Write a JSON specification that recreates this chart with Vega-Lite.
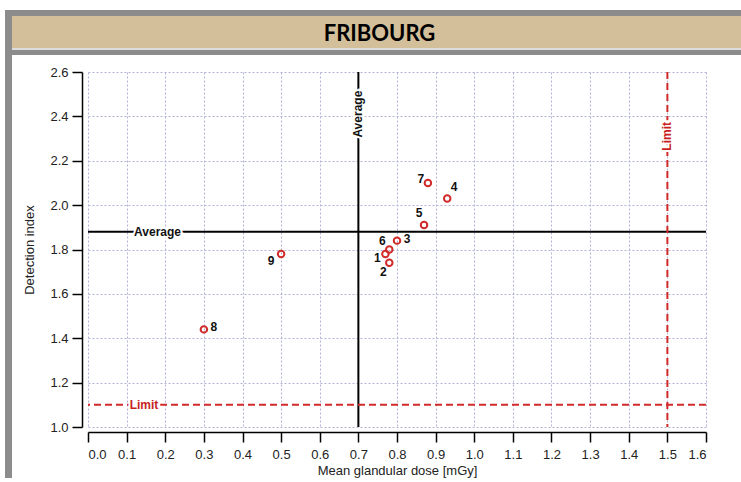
{
  "$schema": "https://vega.github.io/schema/vega-lite/v6.json",
  "background": "white",
  "padding": {"left": 5, "top": 10, "right": 0, "bottom": 0},
  "config": {"view": {"stroke": null}, "concat": {"spacing": 0}},
  "datasets": {
    "points": [
      {"id": 1, "x": 0.77, "y": 1.78},
      {"id": 2, "x": 0.78, "y": 1.74},
      {"id": 3, "x": 0.80, "y": 1.84},
      {"id": 4, "x": 0.93, "y": 2.03},
      {"id": 5, "x": 0.87, "y": 1.91},
      {"id": 6, "x": 0.78, "y": 1.80},
      {"id": 7, "x": 0.88, "y": 2.10},
      {"id": 8, "x": 0.30, "y": 1.44},
      {"id": 9, "x": 0.50, "y": 1.78}
    ],
    "refs": [
      {"kind": "Average", "x": 0.7, "y": 1.88},
      {"kind": "Limit", "x": 1.5, "y": 1.1}
    ],
    "heading": [{"t": "FRIBOURG"}],
    "blank": []
  },
  "hconcat": [
    {
      "width": 7, "height": 468,
      "view": {"fill": "#8c8c8c", "stroke": null},
      "data": {"name": "blank"},
      "mark": "text",
      "encoding": {"text": {"field": "t"}}
    },
    {
      "spacing": 11,
      "vconcat": [
        {
          "spacing": 0,
          "vconcat": [
            {
              "width": 729, "height": 6,
              "view": {"fill": "#8c8c8c", "stroke": null},
              "data": {"name": "blank"},
              "mark": "text",
              "encoding": {"text": {"field": "t"}}
            },
            {
              "width": 729, "height": 32,
              "view": {"fill": "#d3bf99", "stroke": null},
              "data": {"name": "heading"},
              "mark": {"type": "text", "font": "Lato", "fontWeight": "bold", "fontSize": 22, "fill": "#000000", "dy": 2, "dx": 3},
              "encoding": {"text": {"field": "t"}}
            },
            {
              "width": 729, "height": 2,
              "view": {"fill": "#dcdcdc", "stroke": null},
              "data": {"name": "blank"},
              "mark": "text",
              "encoding": {"text": {"field": "t"}}
            },
            {
              "width": 729, "height": 5,
              "view": {"fill": "#8c8c8c", "stroke": null},
              "data": {"name": "blank"},
              "mark": "text",
              "encoding": {"text": {"field": "t"}}
            }
          ]
        },
        {
          "spacing": 0,
          "hconcat": [
            {
              "width": 1, "height": 355,
              "data": {"name": "blank"},
              "mark": "text",
              "encoding": {"text": {"field": "t"}}
            },
            {
              "width": 618, "height": 355,
              "layer": [
                {
                  "data": {"name": "points"},
                  "mark": {"type": "point", "opacity": 0},
                  "encoding": {
                    "x": {"field": "x", "type": "quantitative",
                      "scale": {"domain": [0, 1.6], "nice": false, "zero": false},
                      "axis": {
                        "values": [0, 0.1, 0.2, 0.3, 0.4, 0.5, 0.6, 0.7, 0.8, 0.9, 1.0, 1.1, 1.2, 1.3, 1.4, 1.5, 1.6],
                        "tickCount": 20,
                        "format": ".1f", "offset": 5, "tickSize": 10, "tickWidth": 1.5, "tickColor": "#000",
                        "domainColor": "#000", "domainWidth": 1.5, "labelOverlap": false,
                        "labelFont": "Liberation Sans", "labelFontSize": 13, "labelColor": "#222", "labelPadding": 6,
                        "title": "Mean glandular dose [mGy]", "titleFont": "Liberation Sans", "titleFontSize": 13,
                        "titleFontWeight": "normal", "titleColor": "#222", "titlePadding": 3,
                        "grid": true, "gridColor": "#b3b3da", "gridDash": [2, 2], "gridWidth": 1
                      }
                    },
                    "y": {"field": "y", "type": "quantitative",
                      "scale": {"domain": [1.0, 2.6], "nice": false, "zero": false},
                      "axis": {
                        "values": [1.0, 1.2, 1.4, 1.6, 1.8, 2.0, 2.2, 2.4, 2.6],
                        "tickCount": 12,
                        "format": ".1f", "offset": 6, "tickSize": 10, "tickWidth": 1.5, "tickColor": "#000",
                        "domainColor": "#000", "domainWidth": 1.5, "labelOverlap": false,
                        "labelFont": "Liberation Sans", "labelFontSize": 13, "labelColor": "#222", "labelPadding": 4,
                        "title": ["", "Detection index"], "titleLineHeight": 10, "titleFont": "Liberation Sans", "titleFontSize": 13,
                        "titleFontWeight": "normal", "titleColor": "#222", "titlePadding": 13,
                        "grid": true, "gridColor": "#b3b3da", "gridDash": [2, 2], "gridWidth": 1
                      }
                    }
                  }
                },
                {
                  "data": {"name": "refs"},
                  "transform": [{"filter": "datum.kind == 'Average'"}],
                  "mark": {"type": "rule", "color": "#000", "strokeWidth": 2},
                  "encoding": {"x": {"field": "x", "type": "quantitative", "scale": {"domain": [0, 1.6], "nice": false, "zero": false}}}
                },
                {
                  "data": {"name": "refs"},
                  "transform": [{"filter": "datum.kind == 'Average'"}],
                  "mark": {"type": "rule", "color": "#000", "strokeWidth": 2},
                  "encoding": {"y": {"field": "y", "type": "quantitative", "scale": {"domain": [1.0, 2.6], "nice": false, "zero": false}}}
                },
                {
                  "data": {"name": "refs"},
                  "transform": [{"filter": "datum.kind == 'Limit'"}],
                  "mark": {"type": "rule", "color": "#d12a2a", "strokeWidth": 2, "strokeDash": [7, 4]},
                  "encoding": {"x": {"field": "x", "type": "quantitative", "scale": {"domain": [0, 1.6], "nice": false, "zero": false}}}
                },
                {
                  "data": {"name": "refs"},
                  "transform": [{"filter": "datum.kind == 'Limit'"}],
                  "mark": {"type": "rule", "color": "#d12a2a", "strokeWidth": 2, "strokeDash": [7, 4]},
                  "encoding": {"y": {"field": "y", "type": "quantitative", "scale": {"domain": [1.0, 2.6], "nice": false, "zero": false}}}
                },
                {
                  "data": {"name": "refs"},
                  "transform": [{"filter": "datum.kind == 'Average'"}],
                  "mark": {"type": "text", "font": "Liberation Sans", "fontWeight": "bold", "fontSize": 12, "fill": "white", "stroke": "white", "strokeWidth": 4},
                  "encoding": {
                    "x": {"datum": 0.18, "type": "quantitative", "scale": {"domain": [0, 1.6], "nice": false, "zero": false}},
                    "y": {"field": "y", "type": "quantitative", "scale": {"domain": [1.0, 2.6], "nice": false, "zero": false}},
                    "text": {"field": "kind"}
                  }
                },
                {
                  "data": {"name": "refs"},
                  "transform": [{"filter": "datum.kind == 'Average'"}],
                  "mark": {"type": "text", "font": "Liberation Sans", "fontWeight": "bold", "fontSize": 12, "fill": "#111"},
                  "encoding": {
                    "x": {"datum": 0.18, "type": "quantitative", "scale": {"domain": [0, 1.6], "nice": false, "zero": false}},
                    "y": {"field": "y", "type": "quantitative", "scale": {"domain": [1.0, 2.6], "nice": false, "zero": false}},
                    "text": {"field": "kind"}
                  }
                },
                {
                  "data": {"name": "refs"},
                  "transform": [{"filter": "datum.kind == 'Average'"}],
                  "mark": {"type": "text", "font": "Liberation Sans", "fontWeight": "bold", "fontSize": 12, "angle": 270, "fill": "white", "stroke": "white", "strokeWidth": 4},
                  "encoding": {
                    "x": {"field": "x", "type": "quantitative", "scale": {"domain": [0, 1.6], "nice": false, "zero": false}},
                    "y": {"datum": 2.41, "type": "quantitative", "scale": {"domain": [1.0, 2.6], "nice": false, "zero": false}},
                    "text": {"field": "kind"}
                  }
                },
                {
                  "data": {"name": "refs"},
                  "transform": [{"filter": "datum.kind == 'Average'"}],
                  "mark": {"type": "text", "font": "Liberation Sans", "fontWeight": "bold", "fontSize": 12, "angle": 270, "fill": "#111"},
                  "encoding": {
                    "x": {"field": "x", "type": "quantitative", "scale": {"domain": [0, 1.6], "nice": false, "zero": false}},
                    "y": {"datum": 2.41, "type": "quantitative", "scale": {"domain": [1.0, 2.6], "nice": false, "zero": false}},
                    "text": {"field": "kind"}
                  }
                },
                {
                  "data": {"name": "refs"},
                  "transform": [{"filter": "datum.kind == 'Limit'"}],
                  "mark": {"type": "text", "font": "Liberation Sans", "fontWeight": "bold", "fontSize": 12, "fill": "white", "stroke": "white", "strokeWidth": 4},
                  "encoding": {
                    "x": {"datum": 0.145, "type": "quantitative", "scale": {"domain": [0, 1.6], "nice": false, "zero": false}},
                    "y": {"field": "y", "type": "quantitative", "scale": {"domain": [1.0, 2.6], "nice": false, "zero": false}},
                    "text": {"field": "kind"}
                  }
                },
                {
                  "data": {"name": "refs"},
                  "transform": [{"filter": "datum.kind == 'Limit'"}],
                  "mark": {"type": "text", "font": "Liberation Sans", "fontWeight": "bold", "fontSize": 12, "fill": "#c81e1e"},
                  "encoding": {
                    "x": {"datum": 0.145, "type": "quantitative", "scale": {"domain": [0, 1.6], "nice": false, "zero": false}},
                    "y": {"field": "y", "type": "quantitative", "scale": {"domain": [1.0, 2.6], "nice": false, "zero": false}},
                    "text": {"field": "kind"}
                  }
                },
                {
                  "data": {"name": "refs"},
                  "transform": [{"filter": "datum.kind == 'Limit'"}],
                  "mark": {"type": "text", "font": "Liberation Sans", "fontWeight": "bold", "fontSize": 12, "angle": 270, "fill": "white", "stroke": "white", "strokeWidth": 4},
                  "encoding": {
                    "x": {"field": "x", "type": "quantitative", "scale": {"domain": [0, 1.6], "nice": false, "zero": false}},
                    "y": {"datum": 2.31, "type": "quantitative", "scale": {"domain": [1.0, 2.6], "nice": false, "zero": false}},
                    "text": {"field": "kind"}
                  }
                },
                {
                  "data": {"name": "refs"},
                  "transform": [{"filter": "datum.kind == 'Limit'"}],
                  "mark": {"type": "text", "font": "Liberation Sans", "fontWeight": "bold", "fontSize": 12, "angle": 270, "fill": "#c81e1e"},
                  "encoding": {
                    "x": {"field": "x", "type": "quantitative", "scale": {"domain": [0, 1.6], "nice": false, "zero": false}},
                    "y": {"datum": 2.31, "type": "quantitative", "scale": {"domain": [1.0, 2.6], "nice": false, "zero": false}},
                    "text": {"field": "kind"}
                  }
                },
                {
                  "data": {"name": "points"},
                  "mark": {"type": "point", "shape": "circle", "filled": false, "color": "#d12a2a", "strokeWidth": 2, "size": 42, "opacity": 1},
                  "encoding": {
                    "x": {"field": "x", "type": "quantitative", "scale": {"domain": [0, 1.6], "nice": false, "zero": false}},
                    "y": {"field": "y", "type": "quantitative", "scale": {"domain": [1.0, 2.6], "nice": false, "zero": false}}
                  }
                },
                {"data": {"name": "points"}, "transform": [{"filter": "datum.id == 1"}],
                 "mark": {"type": "text", "font": "Liberation Sans", "fontWeight": "bold", "fontSize": 12, "fill": "#111", "dx": -8, "dy": 4},
                 "encoding": {"x": {"field": "x", "type": "quantitative", "scale": {"domain": [0, 1.6], "nice": false, "zero": false}}, "y": {"field": "y", "type": "quantitative", "scale": {"domain": [1.0, 2.6], "nice": false, "zero": false}}, "text": {"field": "id"}}},
                {"data": {"name": "points"}, "transform": [{"filter": "datum.id == 2"}],
                 "mark": {"type": "text", "font": "Liberation Sans", "fontWeight": "bold", "fontSize": 12, "fill": "#111", "dx": -6, "dy": 9},
                 "encoding": {"x": {"field": "x", "type": "quantitative", "scale": {"domain": [0, 1.6], "nice": false, "zero": false}}, "y": {"field": "y", "type": "quantitative", "scale": {"domain": [1.0, 2.6], "nice": false, "zero": false}}, "text": {"field": "id"}}},
                {"data": {"name": "points"}, "transform": [{"filter": "datum.id == 3"}],
                 "mark": {"type": "text", "font": "Liberation Sans", "fontWeight": "bold", "fontSize": 12, "fill": "#111", "dx": 10, "dy": -2},
                 "encoding": {"x": {"field": "x", "type": "quantitative", "scale": {"domain": [0, 1.6], "nice": false, "zero": false}}, "y": {"field": "y", "type": "quantitative", "scale": {"domain": [1.0, 2.6], "nice": false, "zero": false}}, "text": {"field": "id"}}},
                {"data": {"name": "points"}, "transform": [{"filter": "datum.id == 4"}],
                 "mark": {"type": "text", "font": "Liberation Sans", "fontWeight": "bold", "fontSize": 12, "fill": "#111", "dx": 7, "dy": -11},
                 "encoding": {"x": {"field": "x", "type": "quantitative", "scale": {"domain": [0, 1.6], "nice": false, "zero": false}}, "y": {"field": "y", "type": "quantitative", "scale": {"domain": [1.0, 2.6], "nice": false, "zero": false}}, "text": {"field": "id"}}},
                {"data": {"name": "points"}, "transform": [{"filter": "datum.id == 5"}],
                 "mark": {"type": "text", "font": "Liberation Sans", "fontWeight": "bold", "fontSize": 12, "fill": "#111", "dx": -5, "dy": -12},
                 "encoding": {"x": {"field": "x", "type": "quantitative", "scale": {"domain": [0, 1.6], "nice": false, "zero": false}}, "y": {"field": "y", "type": "quantitative", "scale": {"domain": [1.0, 2.6], "nice": false, "zero": false}}, "text": {"field": "id"}}},
                {"data": {"name": "points"}, "transform": [{"filter": "datum.id == 6"}],
                 "mark": {"type": "text", "font": "Liberation Sans", "fontWeight": "bold", "fontSize": 12, "fill": "#111", "dx": -7, "dy": -9},
                 "encoding": {"x": {"field": "x", "type": "quantitative", "scale": {"domain": [0, 1.6], "nice": false, "zero": false}}, "y": {"field": "y", "type": "quantitative", "scale": {"domain": [1.0, 2.6], "nice": false, "zero": false}}, "text": {"field": "id"}}},
                {"data": {"name": "points"}, "transform": [{"filter": "datum.id == 7"}],
                 "mark": {"type": "text", "font": "Liberation Sans", "fontWeight": "bold", "fontSize": 12, "fill": "#111", "dx": -7, "dy": -4},
                 "encoding": {"x": {"field": "x", "type": "quantitative", "scale": {"domain": [0, 1.6], "nice": false, "zero": false}}, "y": {"field": "y", "type": "quantitative", "scale": {"domain": [1.0, 2.6], "nice": false, "zero": false}}, "text": {"field": "id"}}},
                {"data": {"name": "points"}, "transform": [{"filter": "datum.id == 8"}],
                 "mark": {"type": "text", "font": "Liberation Sans", "fontWeight": "bold", "fontSize": 12, "fill": "#111", "dx": 10, "dy": -2},
                 "encoding": {"x": {"field": "x", "type": "quantitative", "scale": {"domain": [0, 1.6], "nice": false, "zero": false}}, "y": {"field": "y", "type": "quantitative", "scale": {"domain": [1.0, 2.6], "nice": false, "zero": false}}, "text": {"field": "id"}}},
                {"data": {"name": "points"}, "transform": [{"filter": "datum.id == 9"}],
                 "mark": {"type": "text", "font": "Liberation Sans", "fontWeight": "bold", "fontSize": 12, "fill": "#111", "dx": -10, "dy": 7},
                 "encoding": {"x": {"field": "x", "type": "quantitative", "scale": {"domain": [0, 1.6], "nice": false, "zero": false}}, "y": {"field": "y", "type": "quantitative", "scale": {"domain": [1.0, 2.6], "nice": false, "zero": false}}, "text": {"field": "id"}}}
              ]
            }
          ]
        }
      ]
    }
  ]
}
